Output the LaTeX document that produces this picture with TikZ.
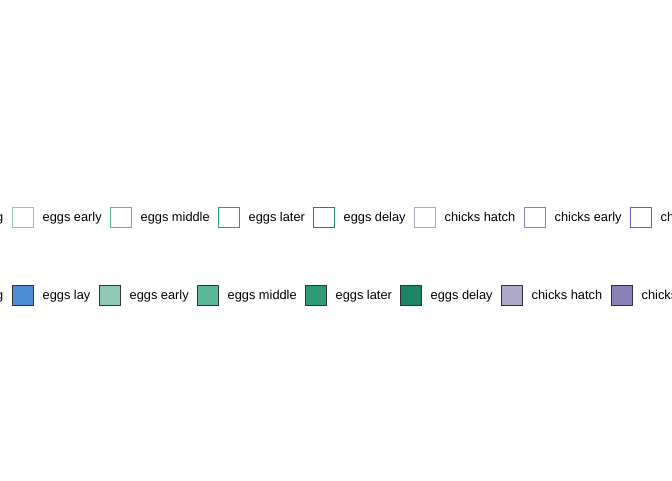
\documentclass[tikz,border=0pt]{standalone}
\usepackage{fontspec}
\setmainfont{Liberation Sans}
\definecolor{eggslay}{HTML}{4A8FD6}
\definecolor{eggsearly}{HTML}{8FCAB8}
\definecolor{eggsmiddle}{HTML}{5BB896}
\definecolor{eggslater}{HTML}{2F9A76}
\definecolor{eggsdelay}{HTML}{1D8466}
\definecolor{chickshatch}{HTML}{AEA8CA}
\definecolor{chicksearly}{HTML}{8A80B8}
\definecolor{chickslate}{HTML}{6B5FAF}
\definecolor{keyedge}{HTML}{333333}
\begin{document}
\begin{tikzpicture}[x=1pt, y=-1pt, font=\fontsize{12.8}{15}\selectfont,
    keybox/.style={minimum width=21pt, minimum height=20pt, inner sep=0pt, line width=1.6pt},
    keylab/.style={anchor=base west, inner sep=0pt}]
        \useasboundingbox (0,0) rectangle (672,480);
        % outline legend (top)
        \node[anchor=base east, inner sep=0pt] (top cut) at (3.5,221.9) {g};
        \foreach \bx/\col/\lab [count=\i] in {12/eggsearly/eggs early, 110/eggsmiddle/eggs middle,
            218/eggslater/eggs later, 313/eggsdelay/eggs delay, 414/chickshatch/chicks hatch,
            524/chicksearly/chicks early, 630/chickslate/ch} {
            \node[keybox, draw=\col, fill=white] (top key \i) at (\bx+11,217.3) {};
            \node[keylab] (top lab \i) at (\bx+30.5,221.9) {\lab};
          }
        % filled legend (bottom)
        \node[anchor=base east, inner sep=0pt] (bot cut) at (3.5,299.9) {g};
        \foreach \bx/\col/\lab [count=\i] in {12/eggslay/eggs lay, 99/eggsearly/eggs early,
            197/eggsmiddle/eggs middle, 305/eggslater/eggs later, 400/eggsdelay/eggs delay,
            501/chickshatch/chicks hatch, 611/chicksearly/chicks} {
            \node[keybox, draw=keyedge, fill=\col] (bot key \i) at (\bx+11,295.3) {};
            \node[keylab] (bot lab \i) at (\bx+30.5,299.9) {\lab};
          }
        \end{tikzpicture}
\end{document}
